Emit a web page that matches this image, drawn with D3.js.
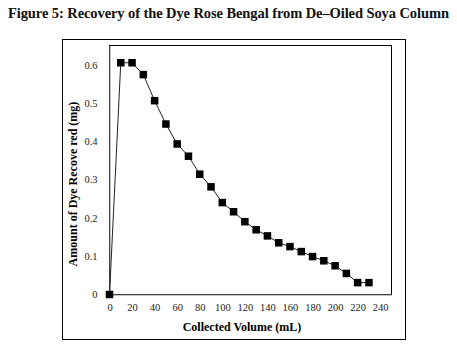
<!DOCTYPE html>
<html>
<head>
<meta charset="utf-8">
<script src="https://cdn.jsdelivr.net/npm/d3@7"></script>
<style>
  body { margin: 0; background: #fff; }
  text { font-family: "Liberation Serif", "Times New Roman", serif; }
</style>
</head>
<body>
<div id="chart"></div>
<script>
// collected volume (mL) and dye recovered (mg)
const volumes = [0, 10, 20, 30, 40, 50, 60, 70, 80, 90, 100, 110, 120, 130, 140, 150, 160, 170, 180, 190, 200, 210, 220, 230];
const recovered = [0, 0.605, 0.605, 0.574, 0.506, 0.445, 0.393, 0.361, 0.314, 0.281, 0.240, 0.216, 0.190, 0.169, 0.153, 0.135, 0.125, 0.112, 0.099, 0.088, 0.075, 0.055, 0.031, 0.031];
const xTicks = d3.range(0, 241, 20);
const yTicks = [0, 0.1, 0.2, 0.3, 0.4, 0.5, 0.6];

const W = 457, H = 350;
const plot = { left: 109.5, right: 391.5, top: 45.5, bottom: 294.5 };

const svg = d3.select("#chart")
  .append("svg")
  .attr("width", W)
  .attr("height", H);

svg.append("text")
  .attr("x", 8)
  .attr("y", 18)
  .attr("textLength", 441)
  .attr("lengthAdjust", "spacing")
  .style("font-size", "14.5px")
  .style("font-weight", "bold")
  .attr("fill", "#111")
  .text("Figure 5: Recovery  of the Dye Rose Bengal from De\u2013Oiled Soya Column");

// outer chart frame
svg.append("rect")
  .attr("x", 62.5)
  .attr("y", 39.5)
  .attr("width", 343)
  .attr("height", 300)
  .attr("fill", "none")
  .attr("stroke", "#000")
  .attr("stroke-width", 1);

const x = d3.scaleLinear().domain([0, 250]).range([plot.left, plot.right]);
const y = d3.scaleLinear().domain([0, 0.65]).range([plot.bottom, plot.top]);

// plot area border
svg.append("rect")
  .attr("x", plot.left)
  .attr("y", plot.top)
  .attr("width", plot.right - plot.left)
  .attr("height", plot.bottom - plot.top)
  .attr("fill", "none")
  .attr("stroke", "#000")
  .attr("stroke-width", 1);

const xAxis = svg.append("g")
  .attr("transform", `translate(0,${plot.bottom})`)
  .call(d3.axisBottom(x).tickValues(xTicks).tickSize(0).tickPadding(9).tickFormat(d3.format("d")));
xAxis.select(".domain").attr("stroke", "#868686");
xAxis.selectAll("text").style("font-size", "10.5px").attr("fill", "#222");

const yAxis = svg.append("g")
  .attr("transform", `translate(${plot.left},0)`)
  .call(d3.axisLeft(y).tickValues(yTicks).tickSize(0).tickPadding(12).tickFormat(d => d === 0 ? "0" : d3.format(".1f")(d)));
yAxis.select(".domain").attr("stroke", "#868686");
yAxis.selectAll("text").style("font-size", "10.5px").attr("fill", "#222");

svg.append("text")
  .attr("x", 242)
  .attr("y", 331)
  .attr("text-anchor", "middle")
  .style("font-size", "12px")
  .style("font-weight", "bold")
  .text("Collected Volume (mL)");

svg.append("text")
  .attr("transform", "rotate(-90)")
  .attr("x", -184)
  .attr("y", 77)
  .attr("text-anchor", "middle")
  .style("font-size", "12px")
  .style("font-weight", "bold")
  .text("Amount of Dye Recove red (mg)");

const data = volumes.map((v, i) => ({ v: v, r: recovered[i] }));

svg.append("path")
  .datum(data)
  .attr("fill", "none")
  .attr("stroke", "#222")
  .attr("stroke-width", 1)
  .attr("d", d3.line().x(d => x(d.v)).y(d => y(d.r)));

const s = 7.5;
svg.selectAll(".pt")
  .data(data)
  .enter()
  .append("rect")
  .attr("class", "pt")
  .attr("x", d => x(d.v) - s / 2)
  .attr("y", d => y(d.r) - s / 2)
  .attr("width", s)
  .attr("height", s)
  .attr("fill", "#000");
</script>
</body>
</html>
